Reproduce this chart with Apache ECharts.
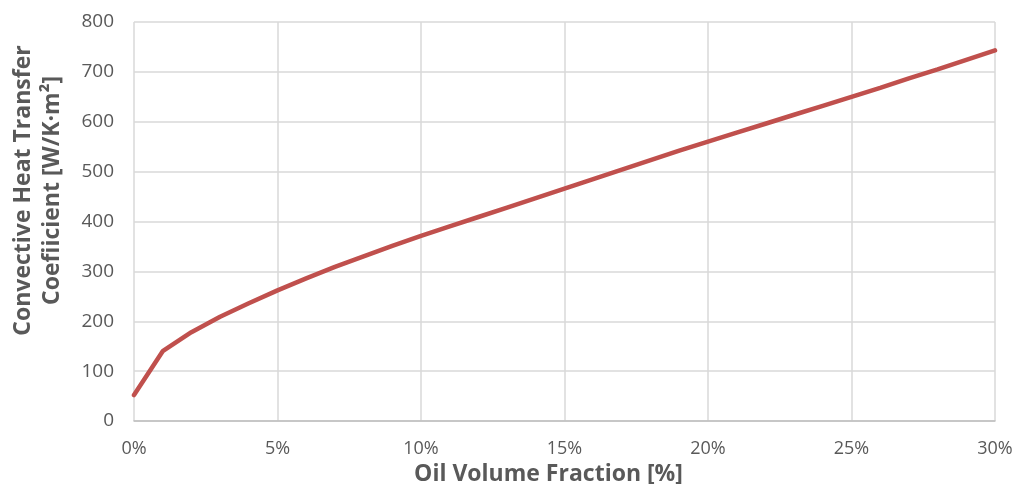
<!DOCTYPE html>
<html>
<head>
<meta charset="utf-8">
<script src="https://cdn.jsdelivr.net/npm/echarts@6/dist/echarts.min.js"></script>
<style>html,body{margin:0;padding:0;background:#fff;}#c{width:1017px;height:484px;}</style>
</head>
<body>
<div id="c"></div>
<script>
const oilFraction = [0,1,2,3,4,5,6,7,8,9,10,11,12,13,14,15,16,17,18,19,20,21,22,23,24,25,26,27,28,29,30];
const heatCoef = [52,140,178,209,236,262,286,309,330,351,371,390,409,428,447,466,485,504,523,542,560,578,596,614,632,650,668,687,705,724,743];
const xTitle = 'Oil Volume Fraction [%]';
const yTitle = 'Convective Heat Transfer\nCoefiicient [W/K·m²]';

const chart = echarts.init(document.getElementById('c'));
const font = 'Open Sans';
chart.setOption({
  animation: false,
  grid: {left: 134, right: 22, top: 22, bottom: 63, containLabel: false, outerBoundsMode: 'none'},
  xAxis: {
    type: 'value', min: 0, max: 30, interval: 5,
    name: xTitle, nameLocation: 'middle', nameGap: 38,
    nameTextStyle: {fontFamily: font, fontSize: 23, fontWeight: 'bold', color: '#595959', padding: [0, 32, 0, 0]},
    axisLine: {show: true, lineStyle: {color: '#bfbfbf', width: 1.5}},
    axisTick: {show: false},
    axisLabel: {formatter: '{value}%', fontFamily: font, fontSize: 18, color: '#595959', margin: 19},
    splitLine: {show: true, lineStyle: {color: '#d9d9d9', width: 1.5}}
  },
  yAxis: {
    type: 'value', min: 0, max: 800, interval: 100,
    name: yTitle, nameLocation: 'middle', nameGap: 67, nameRotate: 90,
    nameTextStyle: {fontFamily: font, fontSize: 23, fontWeight: 'bold', color: '#595959', lineHeight: 29, padding: [0, 0, 0, 62]},
    axisLine: {show: false},
    axisTick: {show: false},
    axisLabel: {fontFamily: font, fontSize: 19, color: '#595959', margin: 20},
    splitLine: {show: true, lineStyle: {color: '#d9d9d9', width: 1.5}}
  },
  series: [{
    type: 'line',
    data: oilFraction.map((x, i) => [x, heatCoef[i]]),
    showSymbol: false,
    lineStyle: {color: '#c0504d', width: 4.5, cap: 'round'},
    itemStyle: {color: '#c0504d'}
  }]
});
</script>
</body>
</html>
